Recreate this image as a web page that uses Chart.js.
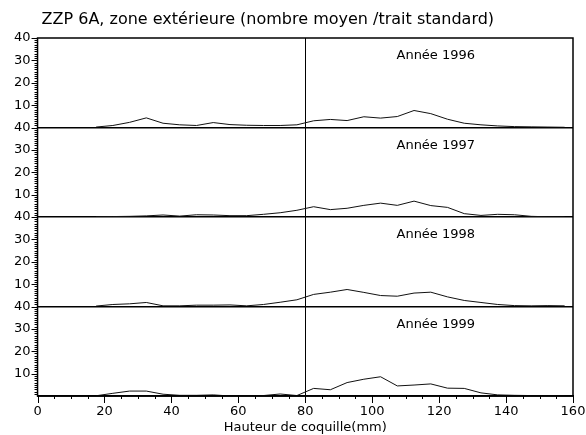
<!DOCTYPE html>
<html>
<head>
<meta charset="utf-8">
<script src="https://cdn.jsdelivr.net/npm/chart.js@4"></script>
<style>
  body { margin: 0; background: #fff; }
  canvas { display: block; }
</style>
</head>
<body>
<canvas id="chart" width="586" height="435"></canvas>
<script>
// classes de hauteur (milieu de classe, mm)
const classes = [17.5, 22.5, 27.5, 32.5, 37.5, 42.5, 47.5, 52.5, 57.5, 62.5,
                 67.5, 72.5, 77.5, 82.5, 87.5, 92.5, 97.5, 102.5, 107.5, 112.5,
                 117.5, 122.5, 127.5, 132.5, 137.5, 142.5, 147.5, 152.5, 157.5];

// nombre moyen par trait standard
const y1996 = [0.2, 0.9, 2.3, 4.3, 1.9, 1.2, 0.9, 2.2, 1.3, 1.0, 0.9, 0.9, 1.2, 3.0, 3.6,
               3.1, 4.8, 4.2, 4.9, 7.6, 6.2, 3.7, 1.9, 1.2, 0.7, 0.4, 0.3, 0.2, 0.1];
const y1997 = [0.1, 0.2, 0.3, 0.5, 0.9, 0.4, 1.0, 0.9, 0.6, 0.6, 1.2, 1.9, 3.0, 4.6, 3.3,
               3.9, 5.2, 6.2, 5.2, 7.1, 5.1, 4.3, 1.5, 0.7, 1.2, 1.0, 0.3, 0.1, 0.0];
const y1998 = [0.2, 0.9, 1.2, 1.8, 0.3, 0.3, 0.6, 0.6, 0.7, 0.3, 0.9, 1.9, 3.0, 5.4, 6.4,
               7.6, 6.3, 4.9, 4.6, 6.0, 6.4, 4.3, 2.7, 1.8, 0.9, 0.4, 0.3, 0.4, 0.3];
const y1999 = [0.1, 1.2, 2.2, 2.2, 0.8, 0.3, 0.3, 0.5, 0.0, 0.1, 0.2, 0.9, 0.2, 3.4, 2.8,
               6.0, 7.5, 8.6, 4.5, 4.9, 5.4, 3.5, 3.4, 1.4, 0.5, 0.3, 0.2, 0.0, 0.0];

const years = ['Année 1996', 'Année 1997', 'Année 1998', 'Année 1999'];
const series = [y1996, y1997, y1998, y1999];
const axisIds = ['y1', 'y2', 'y3', 'y4'];

const titleText = 'ZZP 6A, zone extérieure (nombre moyen /trait standard)';
const xTitle = 'Hauteur de coquille(mm)';

const FONT = 'DejaVu Sans';

// petits traits des axes, cadre, titres des panneaux
const decor = {
    id: 'decor',
    afterDraw(chart) {
        const ctx = chart.ctx;
        const area = chart.chartArea;
        const xs = chart.scales.x;
        ctx.save();
        ctx.strokeStyle = '#000';
        ctx.lineWidth = 1;
        ctx.beginPath();
        // traits de l'axe x, tous les 5 mm
        for (let v = 0; v <= 160; v += 5) {
            const px = Math.round(xs.getPixelForValue(v)) + 0.5;
            const len = v % 20 === 0 ? 7 : 3;
            ctx.moveTo(px, area.bottom);
            ctx.lineTo(px, area.bottom + len);
        }
        // traits des axes y, toutes les unités
        axisIds.forEach(id => {
            const ys = chart.scales[id];
            for (let v = 1; v <= 40; v++) {
                const py = Math.round(ys.getPixelForValue(v)) + 0.5;
                const len = v % 10 === 0 ? 6 : 3;
                ctx.moveTo(area.left - len, py);
                ctx.lineTo(area.left, py);
            }
        });
        ctx.stroke();

        // cadre
        ctx.lineWidth = 1.5;
        ctx.strokeRect(area.left, area.top, area.right - area.left, area.bottom - area.top);

        // titre
        ctx.fillStyle = '#000';
        ctx.font = '16px "' + FONT + '"';
        ctx.textBaseline = 'middle';
        ctx.textAlign = 'left';
        ctx.fillText(titleText, area.left + 4, 20);

        // années
        ctx.font = '13px "' + FONT + '"';
        ctx.textAlign = 'center';
        years.forEach((t, i) => {
            const ys = chart.scales[axisIds[i]];
            ctx.fillText(t, xs.getPixelForValue(119), ys.getPixelForValue(32));
        });
        ctx.restore();
    }
};

const datasets = series.map((vals, i) => ({
    label: years[i],
    data: classes.map((c, j) => ({ x: c, y: vals[j] })),
    yAxisID: axisIds[i],
    borderColor: '#111',
    borderWidth: 1,
    pointRadius: 0,
    tension: 0,
    fill: false
}));

const scales = {
    x: {
        type: 'linear',
        min: 0,
        max: 160,
        afterFit: s => { s.paddingLeft = 0; s.paddingRight = 0; s.height = 39; },
        ticks: {
            stepSize: 20,
            padding: 8,
            color: '#000',
            font: { family: FONT, size: 13 }
        },
        grid: {
            drawTicks: false,
            color: c => (c.tick && c.tick.value === 80) ? '#000' : 'rgba(0,0,0,0)',
            lineWidth: 1
        },
        border: { display: true, color: '#000', width: 1.5 },
        title: {
            display: true,
            text: xTitle,
            color: '#000',
            font: { family: FONT, size: 13 },
            padding: { top: 0, bottom: 0 }
        }
    }
};

// un axe y par année, empilés (le dernier déclaré est en haut)
axisIds.slice().reverse().forEach(id => {
    scales[id] = {
        type: 'linear',
        position: 'left',
        stack: 'annees',
        stackWeight: 1,
        min: 0,
        max: 40,
        afterFit: s => { s.paddingTop = 0; s.paddingBottom = 0; },
        ticks: {
            stepSize: 10,
            autoSkip: false,
            padding: 7,
            color: '#000',
            font: { family: FONT, size: 13 },
            callback: v => v === 0 ? '' : v
        },
        grid: {
            drawTicks: false,
            color: c => (c.tick && c.tick.value === 0) ? '#000' : 'rgba(0,0,0,0)',
            lineWidth: 1.5
        },
        border: { display: true, color: '#000', width: 1 }
    };
});

new Chart(document.getElementById('chart'), {
    type: 'line',
    data: { datasets: datasets },
    options: {
        responsive: false,
        animation: false,
        layout: { padding: { top: 38, right: 13, left: 7, bottom: 0 } },
        plugins: {
            legend: { display: false },
            tooltip: { enabled: false }
        },
        scales: scales
    },
    plugins: [decor]
});
</script>
</body>
</html>
